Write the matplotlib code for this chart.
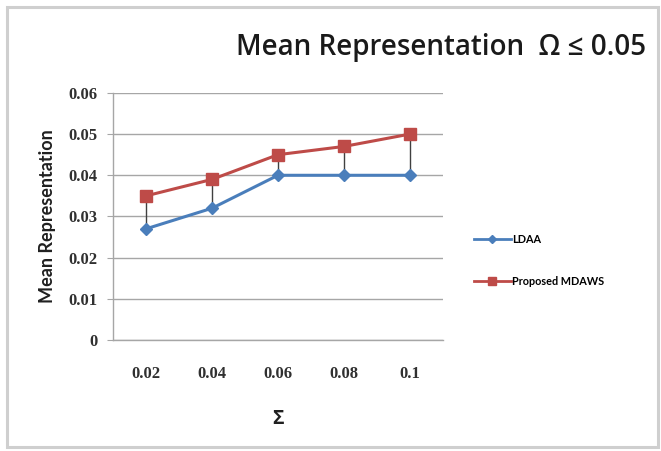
import matplotlib.pyplot as plt
from matplotlib.patches import Rectangle
from matplotlib.lines import Line2D

# data
categories = ["0.02", "0.04", "0.06", "0.08", "0.1"]
ldaa = [0.027, 0.032, 0.040, 0.040, 0.040]
mdaws = [0.035, 0.039, 0.045, 0.047, 0.050]
yticks = [0, 0.01, 0.02, 0.03, 0.04, 0.05, 0.06]
ytick_labels = ["0", "0.01", "0.02", "0.03", "0.04", "0.05", "0.06"]

BLUE = "#4a7ebb"
RED = "#be4b48"
GRID = "#a6a6a6"

fig = plt.figure(figsize=(6.61, 4.51), dpi=100)

# chart frame
fig.patches.append(Rectangle((0.011, 0.009), 0.985, 0.975, transform=fig.transFigure,
                             fill=False, edgecolor="#cfcfcf", linewidth=2.2))

ax = fig.add_axes([0.171, 0.246, 0.499, 0.548])
x = list(range(len(categories)))

# high-low lines
ax.vlines(x, ldaa, mdaws, color="#404040", linewidth=1.0, zorder=2)

ax.plot(x, ldaa, color=BLUE, linewidth=2.2, marker="D", markersize=6,
        markerfacecolor=BLUE, markeredgecolor=BLUE, zorder=3)
ax.plot(x, mdaws, color=RED, linewidth=2.2, marker="s", markersize=8,
        markerfacecolor=RED, markeredgecolor=RED, zorder=4)

ax.set_xlim(-0.5, 4.5)
ax.set_ylim(0, 0.06)
ax.set_yticks(yticks)
ax.set_yticklabels(ytick_labels)
ax.set_xticks(x)
ax.set_xticklabels(categories)
ax.yaxis.grid(True, color=GRID, linewidth=1.0)
ax.set_axisbelow(True)

for side in ["top", "right"]:
    ax.spines[side].set_visible(False)
for side in ["left", "bottom"]:
    ax.spines[side].set_color(GRID)
    ax.spines[side].set_linewidth(1.0)

ax.tick_params(axis="y", length=4, color=GRID, pad=7)
ax.tick_params(axis="x", length=0, pad=19)
for lab in ax.get_xticklabels() + ax.get_yticklabels():
    lab.set_family("Liberation Serif")
    lab.set_fontweight("bold")
    lab.set_fontsize(12)
    lab.set_color("#303030")

ax.set_xlabel("Σ", fontsize=14, fontweight="bold", family="Open Sans", labelpad=19,
              color="#202020")
ax.set_ylabel("Mean Representation", fontsize=13, fontweight="bold",
              family="Lato", labelpad=9, color="#202020")

fig.text(0.668, 0.895, "Mean Representation  Ω ≤ 0.05", ha="center", va="center",
         fontsize=20, family="Open Sans", fontweight="semibold", color="#1a1a1a")

handles = [
    Line2D([], [], color=BLUE, linewidth=2, marker="D", markersize=4),
    Line2D([], [], color=RED, linewidth=2, marker="s", markersize=6),
]
leg = fig.legend(handles, ["LDAA", "Proposed MDAWS"], loc="center left",
                 bbox_to_anchor=(0.709, 0.4225), frameon=False, handlelength=3.4,
                 handletextpad=0.1, labelspacing=2.8, borderpad=0,
                 prop={"family": "Lato", "weight": "bold", "size": 7.8})

fig.savefig("out.png", dpi=100)
